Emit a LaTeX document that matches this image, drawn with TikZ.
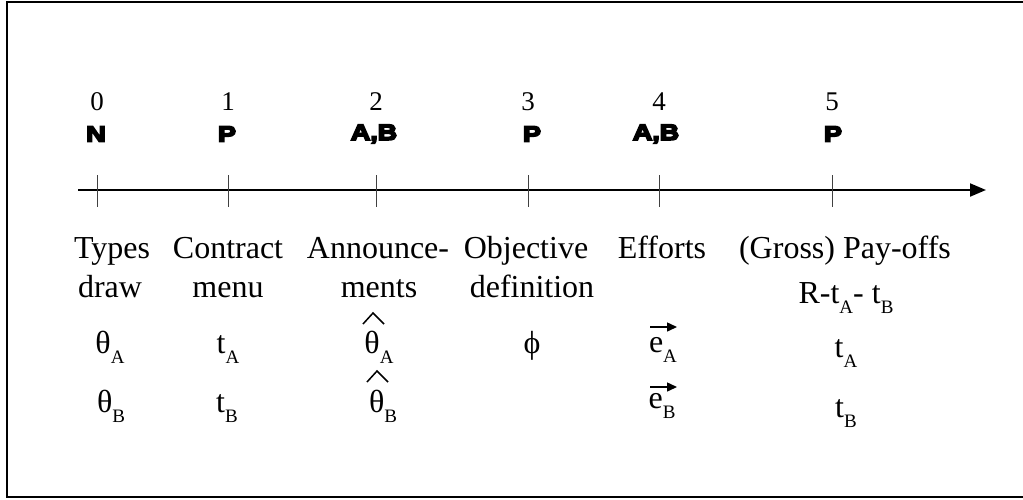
\documentclass[tikz,border=0pt]{standalone}
\usepackage{fontspec}
\setmainfont{Liberation Serif}
\newfontfamily\heavy{Liberation Sans Bold}[FakeBold=8,FakeStretch=1.22]
\usetikzlibrary{arrows.meta,calc}
\newcommand\sbs[1]{\raisebox{-10pt}{\fontsize{19}{19}\selectfont #1}}
\begin{document}
\begin{tikzpicture}[x=1pt,y=-1pt,
 lbl/.style={anchor=base,inner sep=0pt,font=\fontsize{32}{38}\selectfont},
 num/.style={anchor=base,inner sep=0pt,font=\fontsize{27}{30}\selectfont},
 who/.style={anchor=center,inner sep=0pt,font=\heavy\fontsize{22}{24}\selectfont},
 tickline/.style={line width=1pt,draw=black!75},
 hatline/.style={line width=1.5pt},
 vecline/.style={line width=1.5pt,-{Triangle[length=10pt,width=9pt]}},
]
\useasboundingbox (0,0) rectangle (1023,499);
\draw[line width=2pt] (7,2) rectangle (1040,497);
% axis
\coordinate (ax0) at (78,190);
\coordinate (ax1) at (986,190);
\draw[line width=2pt,-{Triangle[length=16pt,width=13pt]}] (ax0) -- (ax1);
\foreach \x/\n in {97/0,228/1,376/2,528/3,659/4,832/5}{
  \draw[tickline] (\x,175) -- (\x,207);
  \node[num] (n\n) at (\x,110) {\n};
}
\node[who] (w0) at (96,134) {N};
\node[who] (w1) at (227,134) {P};
\node[who] (w2) at (374,134) {A,B};
\node[who] (w3) at (532,134) {P};
\node[who] (w4) at (656,134) {A,B};
\node[who] (w5) at (833,134) {P};
% row 1
\node[lbl] (l0a) at (112,258) {Types};
\node[lbl] (l1a) at (228,258) {Contract};
\node[lbl] (l2a) at (378,258) {Announce-};
\node[lbl] (l3a) at (526,258) {Objective};
\node[lbl] (l4a) at (662,258) {Efforts};
\node[lbl] (l5a) at (845,258) {(Gross) Pay-offs};
% row 2
\node[lbl] (l0b) at (110,297) {draw};
\node[lbl] (l1b) at (228,297) {menu};
\node[lbl] (l2b) at (379,297) {ments};
\node[lbl] (l3b) at (532,297) {definition};
\node[lbl] (l5b) at (846,303) {R-t\sbs{A}- t\sbs{B}};
% row 3
\node[lbl] (v0a) at (110,353) {θ\sbs{A}};
\node[lbl] (v1a) at (228,353) {t\sbs{A}};
\node[lbl] (v2a) at (379,353) {θ\sbs{A}};
\node[lbl] (v3a) at (532,353) {ϕ};
\node[lbl] (v4a) at (663,352) {e\sbs{A}};
\node[lbl] (v5a) at (846,357) {t\sbs{A}};
% row 4
\node[lbl] (v0b) at (111,412) {θ\sbs{B}};
\node[lbl] (v1b) at (227,412) {t\sbs{B}};
\node[lbl] (v2b) at (383,412) {θ\sbs{B}};
\node[lbl] (v4b) at (662,408) {e\sbs{B}};
\node[lbl] (v5b) at (846,417) {t\sbs{B}};
% hats
\draw[hatline] (363,324) -- (373,313) -- (384,324);
\draw[hatline] (367,382) -- (377,371) -- (388,382);
% vector arrows
\draw[vecline] (650,327) -- (677,327);
\draw[vecline] (650,387) -- (677,387);
\end{tikzpicture}
\end{document}
